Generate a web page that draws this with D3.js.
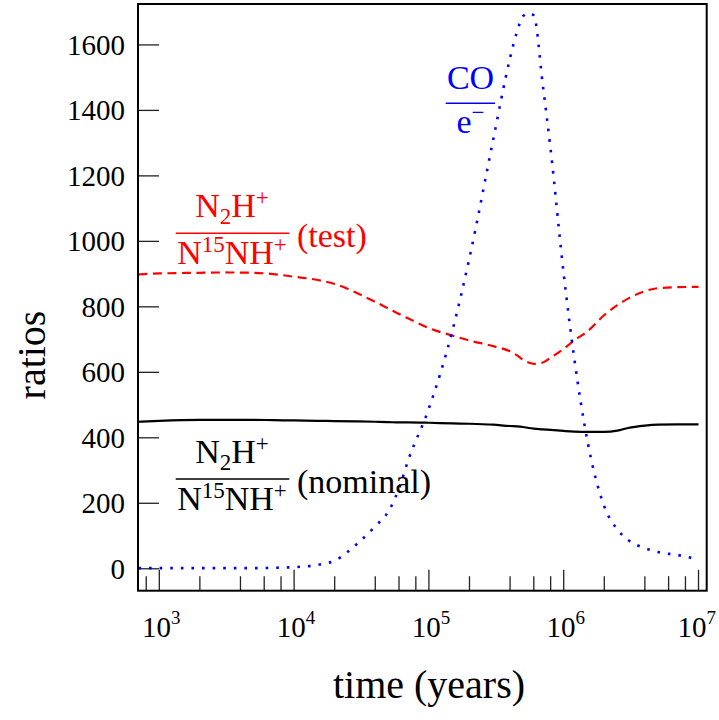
<!DOCTYPE html>
<html><head><meta charset="utf-8">
<script src="https://cdn.jsdelivr.net/npm/d3@7"></script>
<style>
body{margin:0;background:#fff;}
text{font-family:"Liberation Serif","Times New Roman",serif;}
</style></head>
<body><svg id="c" width="719" height="720"></svg>
<script>
const times = [700,1e3,2e3,3e3,5e3,7e3,1e4,1.5e4,2e4,3e4,4e4,5e4,6e4,7e4,1e5,1.5e5,2e5,3e5,4e5,4.5e5,5e5,5.5e5,6e5,7e5,8e5,1e6,1.2e6,1.5e6,2e6,2.5e6,3e6,4e6,5e6,7e6,1e7];
const nominal = [449,452,455,455,455,454,453,452,451,450,449,448,447,447,446,444,443,440,436,435,433,430,428,426,424,421,419,418,418,422,430,437,440,441,441];
const test = [899,902,904,905,904,900,892,882,870,840,815,795,778,765,735,712,697,680,664,652,638,630,626,630,645,672,698,725,775,805,825,848,857,860,861];
const coE = [2,2,2,2,2,3,5,12,25,80,130,175,245,330,490,730,950,1311,1560,1640,1688,1697,1690,1477,1280,900,640,390,190,120,88,63,51,42,28];
const yTicks = [0,200,400,600,800,1000,1200,1400,1600];
const xMajor = [1e3,1e4,1e5,1e6,1e7];
const xMinorMult = [2,4,6,8];

const svg = d3.select("#c");
const L=138, R=706.7, T=4, B=590.7;
const x = d3.scaleLog().domain([695, 1.15e7]).range([L, R]);
const y = d3.scaleLinear().domain([-67, 1725]).range([B, T]);

// minor x ticks
const xMinor = [800];
[1e3,1e4,1e5,1e6].forEach(d=>xMinorMult.forEach(m=>xMinor.push(d*m)));
const g = svg.append("g");
g.selectAll(".xmin").data(xMinor).enter().append("line")
  .attr("x1",d=>x(d)).attr("x2",d=>x(d)).attr("y1",B).attr("y2",B-14.5)
  .attr("stroke","#222").attr("stroke-width",1.3);
g.selectAll(".xmaj").data(xMajor).enter().append("line")
  .attr("x1",d=>x(d)).attr("x2",d=>x(d)).attr("y1",B).attr("y2",B-21)
  .attr("stroke","#222").attr("stroke-width",1.3);
g.selectAll(".ymaj").data(yTicks).enter().append("line")
  .attr("x1",L).attr("x2",L+21).attr("y1",d=>y(d)).attr("y2",d=>y(d))
  .attr("stroke","#222").attr("stroke-width",1.3);

// tick labels
svg.selectAll(".yl").data(yTicks).enter().append("text")
  .attr("x",125).attr("y",d=>y(d)+10).attr("text-anchor","end")
  .attr("font-size",29).text(d=>d);
const xl = svg.selectAll(".xl").data(xMajor).enter().append("text")
  .attr("y",637).attr("text-anchor","middle").attr("font-size",29);
xl.append("tspan").text("10");
xl.append("tspan").attr("font-size",19).attr("dy",-13).text(d=>Math.round(Math.log10(d)));
xl.each(function(d){
  const w = this.getComputedTextLength();
  d3.select(this).attr("x", Math.min(x(d)+2, 716 - w/2));
});

// axis titles
svg.append("text").attr("x",429).attr("y",698).attr("text-anchor","middle")
  .attr("font-size",40).text("time (years)");
svg.append("text").attr("transform","translate(45,355) rotate(-90)").attr("text-anchor","middle")
  .attr("font-size",40).text("ratios");

// lines
const line = arr => d3.line().x((d,i)=>x(times[i])).y(d=>y(d)).curve(d3.curveMonotoneX)(arr);
svg.append("clipPath").attr("id","cp").append("rect")
  .attr("x",L).attr("y",T).attr("width",R-L).attr("height",B-T);
const lg = svg.append("g").attr("clip-path","url(#cp)");
lg.append("path").attr("d",line(nominal)).attr("fill","none").attr("stroke","#000").attr("stroke-width",2.2);
lg.append("path").attr("d",line(test)).attr("fill","none").attr("stroke","#ff0000").attr("stroke-width",2.2)
  .attr("stroke-dasharray","9,5.5");
lg.append("path").attr("d",line(coE)).attr("fill","none").attr("stroke","#0000ff").attr("stroke-width",2.6)
  .attr("stroke-dasharray","2.6,8");

// frame
svg.append("rect").attr("x",L).attr("y",T).attr("width",R-L).attr("height",B-T)
  .attr("fill","none").attr("stroke","#000").attr("stroke-width",2);

// annotations
function frac(color, cx, barY, x1, x2, suffix, suffixX){
  const fs=34;
  const n = svg.append("text").attr("x",cx).attr("y",barY-16.5).attr("text-anchor","middle")
    .attr("font-size",fs).attr("fill",color);
  n.append("tspan").text("N");
  n.append("tspan").attr("font-size",23).attr("dy",7).text("2");
  n.append("tspan").attr("dy",-7).text("H");
  n.append("tspan").attr("font-size",23).attr("dy",-12).text("+");
  svg.append("line").attr("x1",x1).attr("x2",x2).attr("y1",barY).attr("y2",barY)
    .attr("stroke",color).attr("stroke-width",1.6);
  const d = svg.append("text").attr("x",cx).attr("y",barY+30.5).attr("text-anchor","middle")
    .attr("font-size",fs).attr("fill",color);
  d.append("tspan").text("N");
  d.append("tspan").attr("font-size",23).attr("dy",-12).text("15");
  d.append("tspan").attr("dy",12).text("NH");
  d.append("tspan").attr("font-size",23).attr("dy",-12).text("+");
  svg.append("text").attr("x",suffixX).attr("y",barY+13.5).attr("font-size",fs).attr("fill",color).text(suffix);
}
frac("#ff0000",232,233.3,175.7,289.3,"(test)",297);
frac("#000000",232,479,175.7,289.3,"(nominal)",297);

svg.append("text").attr("x",470.5).attr("y",89.3).attr("text-anchor","middle")
  .attr("font-size",34).attr("fill","#0000ff").text("CO");
svg.append("line").attr("x1",445.7).attr("x2",495).attr("y1",103.3).attr("y2",103.3)
  .attr("stroke","#0000ff").attr("stroke-width",1.6);
const e = svg.append("text").attr("x",470.5).attr("y",133.3).attr("text-anchor","middle")
  .attr("font-size",34).attr("fill","#0000ff");
e.append("tspan").text("e");
e.append("tspan").attr("font-size",23).attr("dy",-13).text("\u2212");
</script></body></html>
